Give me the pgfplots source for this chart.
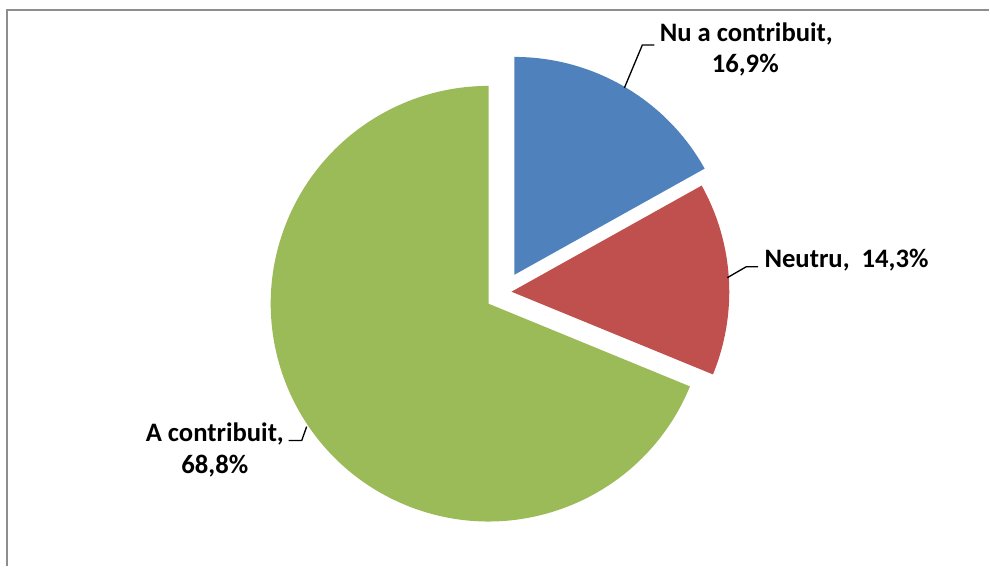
\documentclass[border=0pt]{standalone}
\usepackage{pgfplots}
\usepackage{pgfplotstable}
\pgfplotsset{compat=1.18}
\usepackage{fontspec}
\setmainfont{Carlito}

\definecolor{cblue}{HTML}{4F81BD}
\definecolor{cred}{HTML}{C0504D}
\definecolor{cgreen}{HTML}{9BBB59}
\definecolor{frame}{HTML}{8E8E8E}

% share in percent, explode offset (dx, dy) in px
\pgfplotstableread{
label   value dx dy
NuA     16.9  26 29
Neutru  14.3  23 12
Acontr  68.8  0  0
}\piedata

\pgfplotstablegetelem{0}{value}\of\piedata \let\vA\pgfplotsretval
\pgfplotstablegetelem{1}{value}\of\piedata \let\vB\pgfplotsretval
\pgfplotstablegetelem{2}{value}\of\piedata \let\vC\pgfplotsretval
\pgfmathsetmacro\aA{90-3.6*\vA}
\pgfmathsetmacro\aB{\aA-3.6*\vB}
\pgfmathsetmacro\aC{\aB-3.6*\vC}

\begin{document}
\begin{tikzpicture}
\begin{axis}[
  hide axis, scale only axis,
  width=742.5pt, height=425.25pt,
  xmin=0, xmax=990, ymin=0, ymax=567,
  clip=false,
]
\path (axis cs:0,0) rectangle (axis cs:990,567);
% frame (top and left edge visible)
\draw[frame, line width=1.5pt] (axis cs:7,0) -- (axis cs:7,556.5) -- (axis cs:990,556.5);

% slices, centre (489,263), radius 218 px = 163.5pt
\fill[cblue] (axis cs:515,292) -- ++(90:163.5pt)
  arc[start angle=90, end angle=\aA, radius=163.5pt] -- cycle;
\fill[cred] (axis cs:512,275) -- ++(\aA:163.5pt)
  arc[start angle=\aA, end angle=\aB, radius=163.5pt] -- cycle;
\fill[cgreen] (axis cs:489,263) -- ++(\aB:163.5pt)
  arc[start angle=\aB, end angle=\aC, radius=163.5pt] -- cycle;

% leader lines
\draw[black, line width=1pt] (axis cs:625,479) -- (axis cs:643,522) -- (axis cs:655,522);
\draw[black, line width=1pt] (axis cs:728,289) -- (axis cs:747,300) -- (axis cs:759,300);
\draw[black, line width=1pt] (axis cs:289,126) -- (axis cs:302,126) -- (axis cs:307,140);

% labels
\tikzset{lbl/.style={font=\fontsize{20}{24}\selectfont\bfseries, inner sep=0pt}}
\node[lbl, anchor=base] at (axis cs:747,525) {Nu a contribuit,};
\node[lbl, anchor=base] at (axis cs:746,494) {16,9\%};
\node[lbl, anchor=base west] at (axis cs:765,299) {Neutru,\ \ 14,3\%};
\node[lbl, anchor=base] at (axis cs:215,125) {A contribuit,};
\node[lbl, anchor=base] at (axis cs:215,93) {68,8\%};
\end{axis}
\end{tikzpicture}
\end{document}
